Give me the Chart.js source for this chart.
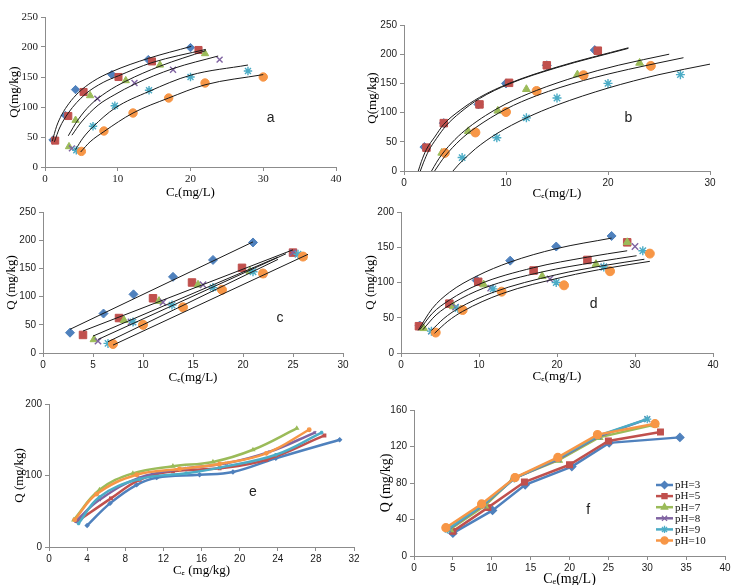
<!DOCTYPE html>
<html>
<head>
<meta charset="utf-8">
<script src="https://cdn.jsdelivr.net/npm/chart.js@4.4.0/dist/chart.umd.min.js"></script>
<style>
  html, body { margin: 0; padding: 0; background: #fff; }
  body { width: 733px; height: 585px; position: relative; overflow: hidden; }
  canvas { position: absolute; }
</style>
</head>
<body>
<canvas id="pa"></canvas>
<canvas id="pb"></canvas>
<canvas id="pc"></canvas>
<canvas id="pd"></canvas>
<canvas id="pe"></canvas>
<canvas id="pf"></canvas>
<script>
// series names, one per pH
const phLabels = ['pH=3', 'pH=5', 'pH=7', 'pH=8', 'pH=9', 'pH=10'];

// panel a : measured points and fitted curves
const aCe = [[1.1, 2.8, 4.2, 9.2, 14.2, 20], [1.4, 3.2, 5.3, 10.1, 14.7, 21.1], [3.3, 4.2, 6.2, 11.1, 15.8, 22],
             [3.7, 7.2, 12.3, 17.6, 24], [4.3, 6.6, 9.6, 14.3, 20, 27.9], [5, 8.1, 12.1, 17, 22, 30]];
const aQ = [[45, 86, 129, 154, 179, 199], [44, 85, 125, 150, 176, 195], [34, 78, 119, 144, 170, 189],
            [31, 114, 140, 162, 179], [28, 68, 102, 128, 150, 160], [26, 60, 90, 115, 140, 150]];
const aFitCe = [[1, 1.6, 2.3, 3.3, 4.6, 6.5, 9.2, 14.2, 20.1], [1.3, 2, 3.2, 5.5, 8, 10.1, 14.7, 22.1],
                [3.2, 4.5, 6.2, 8.5, 11.1, 15.8, 22.1], [3.7, 5, 7.3, 9.5, 12.3, 17.6, 23.8],
                [4.2, 5.2, 6.6, 9.6, 14.3, 20, 27.9], [4.9, 6.2, 8.1, 12.1, 17, 22, 30]];
const aFitQ = [[43, 68, 87, 106, 124, 142, 159, 181, 201], [42, 65, 90, 121, 141, 152, 174, 196],
               [52, 78, 103, 125, 143, 168, 194], [53, 75, 103, 120, 138, 164, 185],
               [29, 48, 67, 98, 126, 153, 170], [25, 42, 59, 90, 115, 137, 154]];

// panel b
const bCe = [[2.0, 3.9, 7.3, 10.0, 14.0, 18.7], [2.2, 3.9, 7.4, 10.3, 14.0, 19.0], [3.7, 6.3, 9.2, 12.0, 17.0, 23.1],
             [4.0, 7.0, 10.0, 13.0, 17.6, 24.2], [5.7, 9.1, 12.0, 15.0, 20.0, 27.1], [4.0, 7.0, 10.0, 13.0, 17.6, 24.2]];
const bQ = [[41, 82, 114, 150, 181, 207], [40, 82, 114, 151, 181, 206], [31, 68, 103, 140, 165, 185],
            [31, 66, 101, 137, 164, 180], [23, 57, 91, 125, 150, 165], [31, 66, 101, 137, 164, 180]];
const bFitCe = [[1.4, 1.7, 2.2, 3.0, 3.9, 5.5, 7.4, 10.3, 15, 22], [1.6, 1.9, 2.4, 3.2, 4.1, 5.5, 7.4, 10.3, 15, 22],
                [2.7, 3.2, 3.7, 5, 6.3, 8, 10, 13, 17, 21, 26], [3, 3.5, 4, 5.5, 7, 10, 13, 17.6, 22, 27.4],
                [4.8, 5.3, 5.7, 7, 9.1, 12, 15, 20, 25, 30]];
const bFitQ = [[0, 16, 37, 58, 80, 104, 126, 150, 178, 211], [0, 14, 34, 56, 77, 100, 124, 149, 177, 210],
               [0, 15, 28, 54, 74, 95, 115, 138, 162, 181, 200], [0, 13, 25, 53, 74, 106, 129, 155, 174, 194],
               [0, 10, 17, 38, 64, 91, 113, 142, 165, 183]];

// panel c
const cCe = [[2.7, 6.05, 9.05, 13, 17, 21], [4, 7.6, 11, 14.9, 19.9, 25], [5.1, 8.1, 11.6, 15.5, 20.7, 26],
             [5.5, 8.8, 12, 16, 22, 25], [6.5, 9, 12.9, 17, 21, 25.5], [7, 10, 14, 17.9, 22, 26]];
const cQ = [[36, 70, 104, 135, 165, 196], [32, 62, 97, 125, 151, 178], [24, 58, 92, 121, 145, 170],
            [21, 55, 90, 121, 140, 178], [17, 55, 85, 116, 144, 175], [16, 50, 81, 112, 141, 171]];
const cFitCe = [[2.7, 21], [4, 25], [5, 23.5], [5.5, 24.3], [6.5, 23.5], [7, 26.5]];
const cFitQ = [[42, 197], [39, 183], [30, 170], [24, 176], [20, 166], [14, 175]];

// panel d
const dCe = [[2.4, 9.7, 14, 19.9, 27], [2.3, 6.2, 9.9, 17, 23.9, 29], [2.9, 6.7, 10.6, 18.1, 25, 29],
             [3.9, 7, 11.5, 19.1, 26, 30], [3.9, 7.3, 11.8, 19.9, 26, 31], [4.45, 7.9, 12.9, 20.9, 26.8, 31.9]];
const dQ = [[39, 103, 131, 151, 166], [38, 70, 101, 117, 132, 157], [35, 66, 97, 109, 126, 157],
            [31, 65, 92, 105, 122, 151], [31, 63, 91, 100, 122, 145], [29, 61, 87, 96, 116, 141]];
const dFitCe = [[2.2, 4, 6.2, 9.7, 14, 19.9, 27], [2.4, 4, 6.2, 9.9, 17, 23.9, 29], [2.8, 4.5, 6.7, 10.6, 18.1, 25, 30.2],
                [3.9, 5.5, 7.3, 11.8, 19.9, 26, 31.2], [4.3, 6, 7.9, 12.9, 20.9, 26.8, 31.9]];
const dFitQ = [[32, 63, 86, 109, 129, 148, 163], [33, 56, 75, 97, 121, 136, 145], [33, 54, 71, 92, 115, 129, 138],
               [32, 49, 63, 86, 111, 124, 133], [28, 45, 59, 84, 108, 121, 130]];

// panel e (smoothed lines)
const eCe = [[4, 6.4, 9.2, 11.3, 15.8, 19.3, 23.8, 30.5], [3, 6.5, 9.5, 13, 17.9, 22.8, 28.9],
             [2.6, 5.3, 8.8, 13, 17.2, 21.4, 26], [2.8, 5.3, 9.5, 14.4, 18.6, 23.1, 27.9],
             [3.1, 5.3, 9.5, 14.4, 17.9, 23.8, 28.6], [2.7, 5, 9.2, 13.7, 17.9, 22.8, 27.3]];
const eQ = [[30, 61, 87, 97, 101, 105, 124, 150], [36, 68, 94, 106, 110, 122, 156],
            [38, 80, 103, 113, 119, 136, 166], [36, 66, 97, 110, 117, 133, 160],
            [33, 70, 95, 103, 111, 129, 160], [38, 74, 101, 109, 116, 131, 164]];

// panel f (straight lines)
const fCe = [[5, 10.1, 14.3, 20.3, 25.1, 34.2], [5, 9.5, 14.2, 20, 25, 31.7], [4.6, 9.1, 12.8, 18.6, 23.8, 31],
             [4.4, 8.9, 12.9, 18.5, 23.7, 30], [4.3, 8.8, 12.9, 18.5, 23.7, 30], [4.1, 8.7, 13, 18.5, 23.6, 31]];
const fQ = [[25, 50, 78, 98, 124, 130], [27, 53, 81, 100, 126, 136], [29, 55, 85, 105, 130, 144],
            [29, 56, 85, 106, 131, 150], [29, 56, 85, 107, 132, 150], [31, 57, 86, 108, 133, 145]];

const SERIF = "'Liberation Serif', 'DejaVu Serif', 'Times New Roman', serif";
const SANS = "'Liberation Sans', Arial, sans-serif";
const colors = ['#4F81BD', '#C0504D', '#9BBB59', '#8064A2', '#4BACC6', '#F79646'];
const marks = ['rectRot', 'rect', 'triangle', 'crossRot', 'star', 'circle'];
const AXIS = '#8c8c8c';
const YW = 42, XH = 40, PT = 10, PR = 8;

function pts(xs, ys) {
  return xs.map((x, i) => ({ x: x, y: ys[i] }));
}

function markerSets(ce, q, r) {
  return ce.map((xs, i) => ({
    label: phLabels[i],
    data: pts(xs, q[i]),
    showLine: false,
    pointStyle: marks[i],
    pointRadius: marks[i] === 'rect' ? r + 0.8 : r,
    backgroundColor: colors[i],
    borderColor: colors[i],
    borderWidth: (marks[i] === 'crossRot' || marks[i] === 'star') ? 1.4 : 1,
    order: 6 - i + 1
  }));
}

function fitSets(ce, q) {
  return ce.map((xs, i) => ({
    label: 'fit',
    data: pts(xs, q[i]),
    showLine: true,
    pointRadius: 0,
    borderColor: '#1a1a1a',
    borderWidth: 1,
    cubicInterpolationMode: 'monotone',
    order: 0
  }));
}

function lineSets(ce, q, r, tension) {
  return ce.map((xs, i) => ({
    label: phLabels[i],
    data: pts(xs, q[i]),
    showLine: true,
    tension: tension,
    pointStyle: marks[i],
    pointRadius: r,
    backgroundColor: colors[i],
    borderColor: colors[i],
    pointBorderWidth: 1.3,
    borderWidth: 2.5,
    order: 6 - i + 1
  }));
}

// small letter inside each panel
function tag(letter, x, y) {
  return {
    id: 'tag',
    afterDatasetsDraw(chart) {
      const ctx = chart.ctx;
      ctx.save();
      ctx.fillStyle = '#222';
      ctx.font = '14px ' + SANS;
      ctx.textAlign = 'center';
      ctx.textBaseline = 'middle';
      ctx.fillText(letter, chart.scales.x.getPixelForValue(x), chart.scales.y.getPixelForValue(y));
      ctx.restore();
    }
  };
}

// legend inside panel f
const legendBox = {
  id: 'legendBox',
  afterDatasetsDraw(chart) {
    const ctx = chart.ctx;
    const x0 = chart.chartArea.left + 242;
    const y0 = chart.chartArea.top + 75;
    ctx.save();
    ctx.font = '11px ' + SERIF;
    ctx.textBaseline = 'middle';
    phLabels.forEach((lab, i) => {
      const y = y0 + i * 11.1;
      ctx.strokeStyle = colors[i];
      ctx.fillStyle = colors[i];
      ctx.lineWidth = 2.5;
      ctx.beginPath();
      ctx.moveTo(x0, y);
      ctx.lineTo(x0 + 17, y);
      ctx.stroke();
      ctx.lineWidth = 1.3;
      Chart.helpers.drawPoint(ctx, { pointStyle: marks[i], radius: 3.6, borderWidth: 1.3, rotation: 0 }, x0 + 8.5, y);
      ctx.fillStyle = '#111';
      ctx.fillText(lab, x0 + 19, y + 0.5);
    });
    ctx.restore();
  }
};

function makeChart(id, box, sc, datasets, extra) {
  const cv = document.getElementById(id);
  cv.width = YW + box.w + PR;
  cv.height = PT + box.h + XH;
  cv.style.left = (box.l - YW) + 'px';
  cv.style.top = (box.t - PT) + 'px';
  new Chart(cv, {
    type: 'scatter',
    data: { datasets: datasets },
    options: {
      responsive: false,
      animation: false,
      events: [],
      layout: { padding: { left: 0, top: PT, right: PR, bottom: 0 } },
      plugins: { legend: { display: false }, tooltip: { enabled: false } },
      scales: {
        x: {
          type: 'linear', min: 0, max: sc.xMax,
          ticks: { stepSize: sc.xStep, color: '#1a1a1a', font: { family: sc.tickFont, size: sc.tickSize }, padding: 2, maxRotation: 0, autoSkip: false },
          grid: { drawOnChartArea: false, drawTicks: true, tickLength: 4, color: AXIS },
          border: { color: AXIS, width: 1 },
          title: { display: true, text: sc.xTitle, color: '#000', font: { family: SERIF, size: sc.titleSize },
                   padding: { top: 0, bottom: XH - sc.xTitleDy - sc.titleSize * 0.6 } },
          afterFit: s => { s.height = XH; s.paddingLeft = 0; s.paddingRight = 0; }
        },
        y: {
          type: 'linear', min: 0, max: sc.yMax,
          ticks: { stepSize: sc.yStep, color: '#1a1a1a', font: { family: sc.tickFont, size: sc.tickSize }, padding: 3 },
          grid: { drawOnChartArea: false, drawTicks: true, tickLength: 4, color: AXIS },
          border: { color: AXIS, width: 1 },
          title: { display: true, text: sc.yTitle, color: '#000', font: { family: SERIF, size: sc.titleSize },
                   padding: { top: YW - sc.yTitleDx - sc.titleSize * 0.6, bottom: 0 } },
          afterFit: s => { s.width = YW; s.paddingTop = 0; s.paddingBottom = 0; }
        }
      }
    },
    plugins: extra
  });
}

makeChart('pa', { l: 45, t: 17, w: 291, h: 150 },
  { xMax: 40, xStep: 10, yMax: 250, yStep: 50, tickFont: SERIF, tickSize: 11, titleSize: 13,
    xTitle: 'Cₑ(mg/L)', yTitle: 'Q(mg/kg)', xTitleDy: 26, yTitleDx: 30 },
  markerSets(aCe, aQ, 4.2).concat(fitSets(aFitCe, aFitQ)), [tag('a', 31, 81)]);

makeChart('pb', { l: 404, t: 25, w: 306, h: 146 },
  { xMax: 30, xStep: 10, yMax: 250, yStep: 50, tickFont: SANS, tickSize: 10, titleSize: 13,
    xTitle: 'Cₑ(mg/L)', yTitle: 'Q(mg/kg)', xTitleDy: 23, yTitleDx: 31 },
  markerSets(bCe, bQ, 4.5).concat(fitSets(bFitCe, bFitQ)), [tag('b', 22, 90)]);

makeChart('pc', { l: 43, t: 212, w: 300, h: 141 },
  { xMax: 30, xStep: 5, yMax: 250, yStep: 50, tickFont: SANS, tickSize: 10, titleSize: 13,
    xTitle: 'Cₑ(mg/L)', yTitle: 'Q (mg/kg)', xTitleDy: 25, yTitleDx: 31 },
  markerSets(cCe, cQ, 4.5).concat(fitSets(cFitCe, cFitQ)), [tag('c', 23.7, 62)]);

makeChart('pd', { l: 401, t: 212, w: 312, h: 141 },
  { xMax: 40, xStep: 10, yMax: 200, yStep: 50, tickFont: SANS, tickSize: 10, titleSize: 13,
    xTitle: 'Cₑ(mg/L)', yTitle: 'Q (mg/kg)', xTitleDy: 24, yTitleDx: 30 },
  markerSets(dCe, dQ, 4.5).concat(fitSets(dFitCe, dFitQ)), [tag('d', 24.7, 70)]);

makeChart('pe', { l: 49, t: 404, w: 305, h: 143 },
  { xMax: 32, xStep: 4, yMax: 200, yStep: 100, tickFont: SANS, tickSize: 10, titleSize: 13,
    xTitle: 'Cₑ (mg/kg)', yTitle: 'Q (mg/kg)', xTitleDy: 23.5, yTitleDx: 29 },
  lineSets(eCe, eQ, 1.8, 0.4), [tag('e', 21.4, 77)]);

makeChart('pf', { l: 414, t: 410, w: 311, h: 146 },
  { xMax: 40, xStep: 5, yMax: 160, yStep: 40, tickFont: SANS, tickSize: 10, titleSize: 14,
    xTitle: 'Cₑ(mg/L)', yTitle: 'Q (mg/kg)', xTitleDy: 23, yTitleDx: 28 },
  lineSets(fCe, fQ, 4, 0), [tag('f', 22.4, 50), legendBox]);
</script>
</body>
</html>
